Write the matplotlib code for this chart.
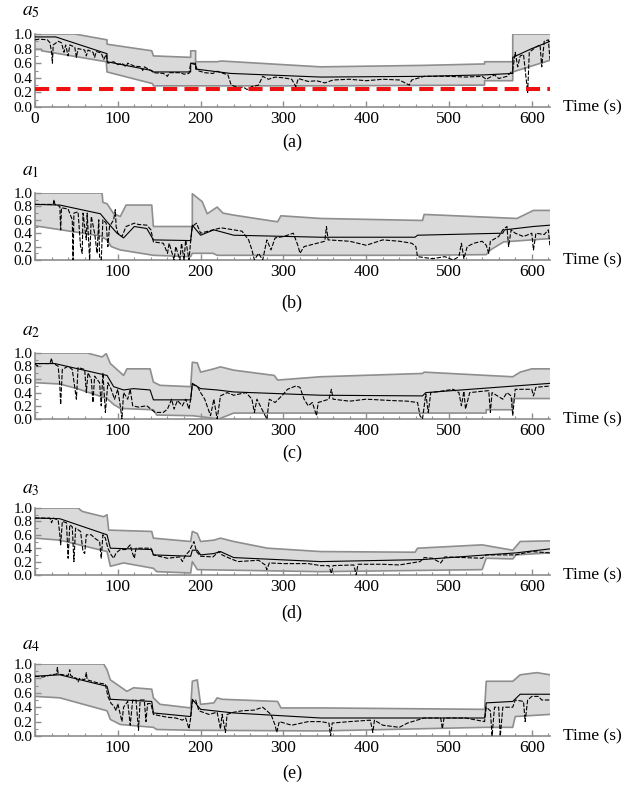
import matplotlib
matplotlib.use("Agg")
import matplotlib.pyplot as plt
from matplotlib.ticker import MultipleLocator, FuncFormatter

plt.rcParams['font.family'] = ['Liberation Serif', 'DejaVu Serif']
plt.rcParams['mathtext.fontset'] = 'stix'

# ---- panel (a): a5 ----
a5_upper = [(0, 1.0), (48, 1.0), (87, 0.92), (87, 0.86), (141, 0.77), (143, 0.7), (188, 0.68), (188, 0.77),
            (194, 0.77), (194, 0.62), (220, 0.62), (225, 0.63), (345, 0.55), (468, 0.57), (543, 0.59),
            (543, 0.62), (577, 0.62), (577, 1.0), (622, 1.0)]
a5_lower = [(0, 0.79), (8, 0.79), (8, 0.77), (86, 0.62), (87, 0.48), (142, 0.32), (143, 0.29), (188, 0.29),
            (345, 0.29), (543, 0.3), (543, 0.36), (577, 0.36), (577, 0.48), (622, 0.64)]
a5_mean = [(0, 0.96), (25, 0.96), (87, 0.73), (87, 0.62), (141, 0.5), (143, 0.48), (188, 0.48), (188, 0.6),
           (194, 0.6), (194, 0.52), (236, 0.46), (345, 0.41), (468, 0.42), (543, 0.44), (577, 0.46),
           (577, 0.68), (600, 0.8), (622, 0.9)]
a5_obs = [(0, 0.92), (5, 0.93), (15, 0.92), (18, 0.88), (20, 0.75), (21, 0.6), (22, 0.85), (28, 0.9), (32, 0.88),
          (35, 0.75), (37, 0.85), (40, 0.7), (42, 0.85), (48, 0.82), (50, 0.68), (52, 0.8), (60, 0.78),
          (62, 0.7), (64, 0.78), (70, 0.75), (72, 0.68), (74, 0.76), (80, 0.74), (83, 0.65), (86, 0.72),
          (88, 0.6), (95, 0.62), (100, 0.58), (105, 0.6), (110, 0.55), (112, 0.6), (120, 0.56), (128, 0.55),
          (130, 0.5), (132, 0.55), (140, 0.5), (143, 0.47), (155, 0.46), (160, 0.42), (162, 0.47),
          (175, 0.47), (180, 0.45), (186, 0.46), (188, 0.6), (194, 0.58), (196, 0.5), (205, 0.47),
          (215, 0.46), (220, 0.49), (225, 0.47), (233, 0.44), (237, 0.3), (245, 0.27), (252, 0.27),
          (256, 0.24), (262, 0.28), (270, 0.3), (275, 0.42), (282, 0.38), (290, 0.41), (300, 0.4),
          (310, 0.38), (315, 0.28), (318, 0.39), (330, 0.35), (340, 0.36), (350, 0.33), (360, 0.37),
          (380, 0.38), (400, 0.36), (420, 0.38), (440, 0.37), (452, 0.3), (455, 0.37), (470, 0.42),
          (500, 0.42), (520, 0.41), (540, 0.42), (545, 0.38), (555, 0.44), (560, 0.39), (570, 0.42),
          (577, 0.5), (580, 0.75), (583, 0.55), (586, 0.7), (590, 0.72), (595, 0.2), (597, 0.75),
          (605, 0.82), (610, 0.85), (612, 0.55), (615, 0.9), (620, 0.92), (622, 0.65)]
threshold = 0.25

# ---- panel (b): a1 ----
a1_upper = [(0, 1.0), (81, 1.0), (82, 0.86), (87, 0.84), (95, 0.69), (103, 0.65), (110, 0.82), (141, 0.82),
            (143, 0.5), (190, 0.5), (190, 0.99), (202, 0.87), (208, 0.69), (220, 0.79), (227, 0.7),
            (240, 0.67), (293, 0.57), (297, 0.66), (345, 0.62), (468, 0.59), (470, 0.68), (582, 0.62),
            (602, 0.74), (622, 0.74)]
a1_lower = [(0, 0.51), (79, 0.36), (87, 0.3), (92, 0.2), (103, 0.15), (143, 0.07), (188, 0.05), (190, 0.1),
            (215, 0.1), (220, 0.07), (459, 0.07), (545, 0.08), (550, 0.15), (566, 0.27), (622, 0.32)]
a1_mean = [(0, 0.83), (30, 0.82), (79, 0.69), (87, 0.57), (99, 0.4), (107, 0.33), (120, 0.5), (135, 0.47),
           (143, 0.3), (188, 0.29), (190, 0.52), (200, 0.37), (216, 0.45), (240, 0.37), (345, 0.34),
           (459, 0.34), (462, 0.37), (565, 0.4), (567, 0.45), (602, 0.5), (622, 0.52)]
a1_obs = [(0, 0.83), (22, 0.83), (23, 0.9), (24, 0.83), (30, 0.8), (31, 0.45), (32, 0.78), (40, 0.76),
          (45, 0.6), (46, 0.0), (47, 0.7), (52, 0.72), (55, 0.2), (57, 0.1), (58, 0.7), (62, 0.3), (63, 0.7),
          (66, 0.0), (68, 0.65), (72, 0.4), (75, 0.1), (77, 0.6), (78, 0.05), (80, 0.0), (82, 0.6),
          (86, 0.55), (88, 0.2), (90, 0.5), (95, 0.6), (97, 0.75), (98, 0.5), (100, 0.4), (105, 0.35),
          (110, 0.5), (120, 0.55), (125, 0.53), (135, 0.52), (140, 0.45), (143, 0.27), (155, 0.25),
          (160, 0.1), (162, 0.25), (168, 0.0), (170, 0.2), (175, 0.0), (177, 0.25), (180, 0.0), (182, 0.3),
          (186, 0.0), (188, 0.28), (190, 0.5), (195, 0.55), (200, 0.4), (215, 0.45), (225, 0.48),
          (250, 0.43), (258, 0.3), (262, 0.15), (265, 0.0), (270, 0.1), (275, 0.0), (280, 0.3),
          (285, 0.15), (290, 0.33), (300, 0.35), (312, 0.4), (318, 0.2), (320, 0.1), (325, 0.2),
          (350, 0.28), (352, 0.5), (354, 0.3), (380, 0.28), (400, 0.22), (420, 0.3), (440, 0.28),
          (455, 0.25), (460, 0.2), (462, 0.05), (480, 0.02), (495, 0.05), (505, 0.0), (512, 0.05),
          (515, 0.25), (518, 0.02), (522, 0.2), (530, 0.25), (540, 0.28), (545, 0.22), (548, 0.1),
          (550, 0.28), (560, 0.35), (565, 0.45), (570, 0.5), (572, 0.2), (575, 0.45), (580, 0.4),
          (590, 0.35), (600, 0.4), (602, 0.15), (605, 0.4), (615, 0.38), (620, 0.45), (622, 0.2)]

# ---- panel (c): a2 ----
a2_upper = [(0, 1.0), (63, 1.0), (81, 0.94), (86, 0.99), (91, 0.84), (107, 0.66), (111, 0.76), (139, 0.76),
            (143, 0.56), (151, 0.51), (188, 0.49), (190, 0.86), (196, 0.85), (200, 0.71), (216, 0.76),
            (224, 0.79), (240, 0.74), (289, 0.66), (293, 0.59), (345, 0.64), (468, 0.69), (470, 0.71),
            (577, 0.64), (586, 0.71), (600, 0.76), (622, 0.76)]
a2_lower = [(0, 0.55), (30, 0.53), (51, 0.46), (87, 0.31), (95, 0.22), (103, 0.16), (143, 0.14),
            (147, 0.06), (188, 0.05), (190, 0.05), (210, 0.02), (222, 0.0), (240, 0.09), (345, 0.09),
            (545, 0.09), (545, 0.14), (577, 0.14), (577, 0.31), (622, 0.31)]
a2_mean = [(0, 0.84), (24, 0.84), (87, 0.66), (95, 0.49), (107, 0.44), (119, 0.46), (139, 0.44),
           (143, 0.29), (188, 0.29), (190, 0.54), (200, 0.46), (220, 0.44), (240, 0.41), (345, 0.36),
           (468, 0.35), (472, 0.4), (622, 0.54)]
a2_obs = [(0, 0.84), (3, 0.8), (5, 0.84), (18, 0.84), (20, 0.92), (21, 0.85), (28, 0.8), (30, 0.5),
          (31, 0.22), (33, 0.75), (40, 0.8), (45, 0.75), (50, 0.3), (52, 0.78), (60, 0.75), (62, 0.4),
          (64, 0.7), (68, 0.6), (70, 0.25), (72, 0.65), (78, 0.55), (80, 0.2), (82, 0.7), (85, 0.1),
          (88, 0.55), (92, 0.45), (96, 0.3), (100, 0.45), (103, 0.2), (105, 0.0), (107, 0.4), (112, 0.3),
          (115, 0.45), (118, 0.2), (125, 0.18), (135, 0.2), (140, 0.15), (145, 0.1), (155, 0.1),
          (160, 0.15), (165, 0.3), (168, 0.15), (172, 0.28), (178, 0.2), (182, 0.3), (186, 0.15),
          (188, 0.3), (190, 0.52), (196, 0.5), (200, 0.4), (205, 0.3), (212, 0.05), (216, 0.3), (220, 0.0),
          (224, 0.35), (232, 0.4), (240, 0.36), (255, 0.4), (262, 0.3), (265, 0.1), (268, 0.3),
          (272, 0.2), (280, 0.0), (283, 0.3), (290, 0.25), (298, 0.35), (305, 0.45), (315, 0.5),
          (320, 0.48), (325, 0.3), (330, 0.2), (335, 0.25), (340, 0.05), (342, 0.25), (355, 0.3),
          (358, 0.45), (360, 0.3), (380, 0.27), (400, 0.3), (430, 0.28), (450, 0.27), (462, 0.25),
          (465, 0.05), (468, 0.0), (472, 0.38), (475, 0.1), (478, 0.4), (490, 0.42), (505, 0.45),
          (512, 0.4), (515, 0.2), (518, 0.42), (520, 0.15), (525, 0.4), (540, 0.42), (548, 0.43),
          (550, 0.1), (552, 0.4), (565, 0.3), (570, 0.4), (575, 0.35), (577, 0.05), (580, 0.45),
          (600, 0.45), (602, 0.35), (605, 0.48), (622, 0.5)]

# ---- panel (d): a3 ----
a3_upper = [(0, 1.0), (52, 1.0), (57, 0.95), (63, 0.93), (83, 0.87), (87, 0.9), (89, 0.67), (141, 0.65),
            (143, 0.55), (188, 0.5), (190, 0.65), (196, 0.62), (200, 0.5), (216, 0.52), (224, 0.55),
            (240, 0.5), (281, 0.4), (345, 0.35), (459, 0.34), (462, 0.4), (540, 0.45), (577, 0.37),
            (586, 0.5), (622, 0.51)]
a3_lower = [(0, 0.55), (30, 0.52), (87, 0.35), (91, 0.13), (107, 0.18), (143, 0.1), (147, 0.05),
            (188, 0.03), (190, 0.2), (196, 0.08), (345, 0.05), (540, 0.08), (545, 0.25), (577, 0.24),
            (581, 0.3), (622, 0.33)]
a3_mean = [(0, 0.85), (30, 0.84), (87, 0.6), (91, 0.4), (141, 0.38), (143, 0.3), (188, 0.28), (190, 0.37),
           (196, 0.37), (200, 0.3), (216, 0.32), (224, 0.35), (240, 0.26), (345, 0.2), (468, 0.23),
           (545, 0.3), (581, 0.33), (622, 0.39)]
a3_obs = [(0, 0.85), (18, 0.85), (20, 0.78), (22, 0.85), (28, 0.82), (30, 0.6), (31, 0.45), (33, 0.8),
          (38, 0.78), (40, 0.25), (42, 0.75), (45, 0.72), (47, 0.2), (49, 0.7), (55, 0.65), (58, 0.35),
          (60, 0.32), (62, 0.6), (68, 0.6), (72, 0.55), (78, 0.5), (80, 0.25), (82, 0.6), (85, 0.55),
          (88, 0.4), (92, 0.3), (95, 0.25), (98, 0.33), (103, 0.38), (110, 0.38), (115, 0.45), (117, 0.35),
          (120, 0.25), (122, 0.4), (140, 0.4), (143, 0.3), (160, 0.25), (175, 0.27), (178, 0.2), (182, 0.3),
          (186, 0.35), (190, 0.45), (192, 0.5), (195, 0.35), (200, 0.28), (215, 0.27), (222, 0.35),
          (226, 0.3), (235, 0.25), (245, 0.2), (270, 0.22), (278, 0.15), (280, 0.08), (283, 0.18),
          (300, 0.17), (330, 0.17), (345, 0.14), (355, 0.14), (358, 0.02), (360, 0.14), (385, 0.15),
          (388, 0.0), (390, 0.16), (420, 0.16), (440, 0.15), (465, 0.2), (470, 0.26), (480, 0.25),
          (490, 0.18), (495, 0.27), (540, 0.25), (545, 0.3), (570, 0.3), (580, 0.3), (600, 0.35),
          (622, 0.33)]

# ---- panel (e): a4 ----
a4_upper = [(0, 1.0), (83, 1.0), (87, 0.92), (91, 0.78), (111, 0.62), (119, 0.67), (141, 0.65),
            (143, 0.53), (151, 0.44), (188, 0.39), (190, 0.76), (196, 0.78), (200, 0.44), (216, 0.46),
            (220, 0.53), (226, 0.51), (293, 0.48), (297, 0.39), (345, 0.39), (543, 0.37), (545, 0.76),
            (577, 0.76), (586, 0.85), (606, 0.88), (622, 0.85)]
a4_lower = [(0, 0.55), (30, 0.53), (87, 0.35), (91, 0.23), (103, 0.16), (143, 0.12), (147, 0.09),
            (188, 0.08), (345, 0.07), (543, 0.12), (577, 0.12), (580, 0.27), (622, 0.3)]
a4_mean = [(0, 0.83), (30, 0.85), (87, 0.69), (91, 0.51), (141, 0.48), (143, 0.32), (188, 0.27),
           (190, 0.51), (200, 0.37), (240, 0.32), (345, 0.25), (543, 0.25), (545, 0.46), (577, 0.48),
           (586, 0.58), (622, 0.58)]
a4_obs = [(0, 0.83), (10, 0.82), (20, 0.85), (26, 0.86), (27, 0.95), (28, 0.86), (40, 0.84), (42, 0.92),
          (43, 0.84), (50, 0.8), (52, 0.75), (54, 0.8), (60, 0.78), (62, 0.88), (63, 0.78), (75, 0.74),
          (85, 0.72), (88, 0.55), (92, 0.45), (95, 0.42), (98, 0.35), (100, 0.45), (105, 0.2), (107, 0.4),
          (112, 0.48), (115, 0.15), (118, 0.5), (122, 0.5), (125, 0.08), (127, 0.5), (132, 0.5),
          (134, 0.2), (136, 0.45), (140, 0.45), (143, 0.3), (160, 0.26), (170, 0.25), (178, 0.22),
          (182, 0.25), (186, 0.1), (188, 0.25), (190, 0.48), (194, 0.5), (198, 0.35), (210, 0.3),
          (220, 0.33), (224, 0.1), (226, 0.3), (230, 0.05), (232, 0.3), (240, 0.33), (250, 0.35),
          (265, 0.36), (275, 0.4), (280, 0.35), (285, 0.3), (290, 0.15), (292, 0.05), (295, 0.2),
          (310, 0.15), (330, 0.2), (345, 0.2), (355, 0.18), (357, 0.0), (359, 0.18), (380, 0.2),
          (405, 0.22), (408, 0.05), (410, 0.22), (420, 0.15), (440, 0.12), (450, 0.18), (470, 0.25),
          (490, 0.25), (492, 0.1), (494, 0.25), (520, 0.25), (543, 0.2), (545, 0.4), (550, 0.35),
          (552, 0.0), (555, 0.4), (560, 0.4), (562, 0.0), (565, 0.4), (577, 0.4), (580, 0.5), (590, 0.48),
          (592, 0.2), (595, 0.5), (600, 0.55), (608, 0.55), (612, 0.5), (622, 0.5)]

var_names = ["a_5", "a_1", "a_2", "a_3", "a_4"]
letters = ["(a)", "(b)", "(c)", "(d)", "(e)"]
series = [(a5_upper, a5_lower, a5_mean, a5_obs),
          (a1_upper, a1_lower, a1_mean, a1_obs),
          (a2_upper, a2_lower, a2_mean, a2_obs),
          (a3_upper, a3_lower, a3_mean, a3_obs),
          (a4_upper, a4_lower, a4_mean, a4_obs)]

W, H = 627, 787
fig = plt.figure(figsize=(W / 100, H / 100), dpi=100)

# pixel layout: axes top, axes bottom, name label y, letter y
rows = [(34, 107, 12, 142), (193, 260, 172, 303), (353, 419, 332, 453),
        (508, 575, 489, 613), (664, 736, 646, 773)]
left_px, right_px = 35, 550
band_col = "#dadada"
edge_col = "#8e8e8e"


def xy(pts):
    return [p[0] for p in pts], [p[1] for p in pts]


for i in range(5):
    top, bot, lab_y, let_y = rows[i]
    upper, lower, mean, obs = series[i]
    ax = fig.add_axes([left_px / W, 1 - bot / H, (right_px - left_px) / W, (bot - top) / H])

    ux, uy = xy(upper)
    lx, ly = xy(lower)
    ax.fill(ux + lx[::-1], uy + ly[::-1], color=band_col, lw=0, zorder=1)
    ax.plot(ux, uy, color=edge_col, lw=1.2, zorder=2)
    ax.plot(lx, ly, color=edge_col, lw=1.2, zorder=2)
    mx, my = xy(mean)
    ax.plot(mx, my, color="black", lw=0.8, zorder=3)
    ox, oy = xy(obs)
    ax.plot(ox, oy, color="black", lw=0.8, dashes=(4, 1.5), zorder=4)
    if i == 0:
        ax.plot([0, 622], [threshold, threshold], color="#ee1111", lw=2.9, dashes=(3.5, 1.8), zorder=5)

    ax.set_xlim(0, 622)
    ax.set_ylim(0, 1.0)
    for s in ["top", "right"]:
        ax.spines[s].set_visible(False)
    for s in ["left", "bottom"]:
        ax.spines[s].set_color(edge_col)
        ax.spines[s].set_linewidth(1.2)
    ax.set_facecolor("none")

    ax.xaxis.set_major_locator(MultipleLocator(100))
    ax.xaxis.set_minor_locator(MultipleLocator(20))
    ax.yaxis.set_major_locator(MultipleLocator(0.2))
    ax.yaxis.set_minor_locator(MultipleLocator(0.1))
    if i == 0:
        ax.xaxis.set_major_formatter(FuncFormatter(lambda v, p: "%d" % v))
    else:
        ax.xaxis.set_major_formatter(FuncFormatter(lambda v, p: "" if v == 0 else "%d" % v))
    ax.yaxis.set_major_formatter(FuncFormatter(lambda v, p: "%.1f" % v))
    ax.tick_params(which="both", direction="in", color=edge_col, labelcolor="black")
    ax.tick_params(which="major", length=4, width=1)
    ax.tick_params(which="minor", length=2, width=0.8)
    ax.tick_params(axis="x", labelsize=12.5, pad=3)
    ax.tick_params(axis="y", labelsize=11, pad=2)

    fig.text(22 / W, 1 - lab_y / H, "$" + var_names[i] + "$", fontsize=14, va="center", ha="left")
    fig.text(563 / W, 1 - bot / H, "Time (s)", fontsize=12.5, va="center", ha="left")
    fig.text(292 / W, 1 - let_y / H, letters[i], fontsize=13, va="center", ha="center")

fig.savefig("out.png", dpi=100)
